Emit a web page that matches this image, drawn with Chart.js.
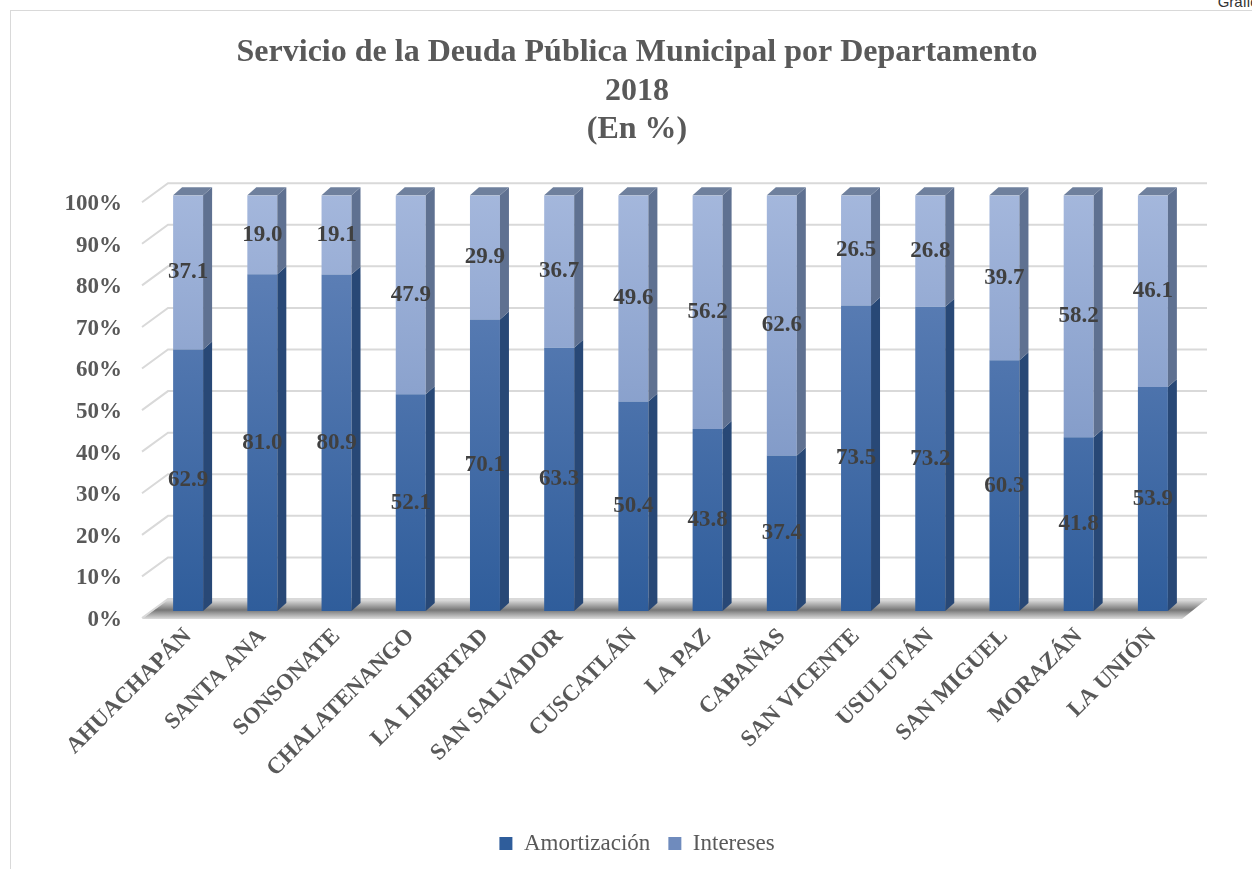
<!DOCTYPE html>
<html>
<head>
<meta charset="utf-8">
<script src="https://cdn.jsdelivr.net/npm/chart.js@4"></script>
<style>
  html, body { margin: 0; padding: 0; background: #fff; overflow: hidden; }
  #frame { position: absolute; left: 10px; top: 10px; width: 1300px; height: 900px; border: 1px solid #d9d9d9; }
  #tag { position: absolute; right: -14px; top: -7px; font: 15px "Liberation Sans", Arial, sans-serif; color: #333; }
  #wrap { position: absolute; left: 0; top: 0; width: 1252px; height: 869px; }
</style>
</head>
<body>
<div id="frame"></div>
<div id="tag">Gráfico</div>
<div id="wrap"><canvas id="chart"></canvas></div>
<script>
const categories = ["AHUACHAPÁN", "SANTA ANA", "SONSONATE", "CHALATENANGO", "LA LIBERTAD", "SAN SALVADOR",
  "CUSCATLÁN", "LA PAZ", "CABAÑAS", "SAN VICENTE", "USULUTÁN", "SAN MIGUEL", "MORAZÁN", "LA UNIÓN"];
const amortizacion = [62.9, 81.0, 80.9, 52.1, 70.1, 63.3, 50.4, 43.8, 37.4, 73.5, 73.2, 60.3, 41.8, 53.9];
const intereses = [37.1, 19.0, 19.1, 47.9, 29.9, 36.7, 49.6, 56.2, 62.6, 26.5, 26.8, 39.7, 58.2, 46.1];
const yTicks = [0, 10, 20, 30, 40, 50, 60, 70, 80, 90, 100];

const serif = '"Liberation Serif", "Times New Roman", serif';
const DX = 9, DY = -8;          // bar depth
const WX = 17, WY = -12;        // back wall offset

function areaGradient(chart, bottomColor, topColor) {
  const a = chart.chartArea;
  if (!a) return bottomColor;
  const g = chart.ctx.createLinearGradient(0, a.bottom, 0, a.top);
  g.addColorStop(0, bottomColor);
  g.addColorStop(1, topColor);
  return g;
}

const wallPlugin = {
  id: 'wall',
  beforeDatasetsDraw(chart) {
    const ctx = chart.ctx, y = chart.scales.y, a = chart.chartArea;
    ctx.save();
    // floor
    const yb0 = y.getPixelForValue(0);
    const fg = ctx.createLinearGradient(0, yb0 + WY, 0, yb0 + 8);
    fg.addColorStop(0, '#e6e6e6');
    fg.addColorStop(0.55, '#767676');
    fg.addColorStop(1, '#dcdcdc');
    ctx.fillStyle = fg;
    ctx.beginPath();
    ctx.moveTo(a.left + WX, yb0 + WY);
    ctx.lineTo(a.right + WX, yb0 + WY);
    ctx.lineTo(a.right - 8, yb0 + 8);
    ctx.lineTo(a.left - 9, yb0 + 8);
    ctx.closePath();
    ctx.fill();
    // grid lines on back wall and side
    ctx.strokeStyle = '#d9d9d9';
    ctx.lineWidth = 2;
    yTicks.forEach(v => {
      const yy = y.getPixelForValue(v) + WY;
      ctx.beginPath();
      ctx.moveTo(a.left - 9, yy + 19);
      ctx.lineTo(a.left + WX, yy);
      ctx.lineTo(a.right + WX, yy);
      ctx.stroke();
    });
    ctx.restore();
  },
  afterDatasetsDraw(chart) {
    const ctx = chart.ctx;
    const sides = ['#284876', '#5f7191'];
    ctx.save();
    chart.data.datasets.forEach((ds, di) => {
      chart.getDatasetMeta(di).data.forEach((bar, i) => {
        const w = bar.width, r = bar.x + w / 2, l = bar.x - w / 2;
        ctx.fillStyle = sides[di];
        ctx.beginPath();
        ctx.moveTo(r, bar.y);
        ctx.lineTo(r + DX, bar.y + DY);
        ctx.lineTo(r + DX, bar.base + DY);
        ctx.lineTo(r, bar.base);
        ctx.closePath();
        ctx.fill();
        if (di === chart.data.datasets.length - 1) {
          ctx.fillStyle = '#6f809d';
          ctx.beginPath();
          ctx.moveTo(l, bar.y);
          ctx.lineTo(l + DX, bar.y + DY);
          ctx.lineTo(r + DX, bar.y + DY);
          ctx.lineTo(r, bar.y);
          ctx.closePath();
          ctx.fill();
        }
      });
    });
    // value labels
    ctx.font = 'bold 23px ' + serif;
    ctx.fillStyle = '#404040';
    ctx.textAlign = 'center';
    ctx.textBaseline = 'middle';
    chart.data.datasets.forEach((ds, di) => {
      chart.getDatasetMeta(di).data.forEach((bar, i) => {
        ctx.fillText(ds.data[i].toFixed(1), bar.x, (bar.y + bar.base) / 2);
      });
    });
    ctx.restore();
  }
};

new Chart(document.getElementById('chart'), {
  type: 'bar',
  data: {
    labels: categories,
    datasets: [
      {
        label: 'Amortización',
        data: amortizacion,
        backgroundColor: (c) => areaGradient(c.chart, '#2f5d9b', '#6686bb')
      },
      {
        label: 'Intereses',
        data: intereses,
        backgroundColor: (c) => areaGradient(c.chart, '#6f8bbd', '#a4b7dc')
      }
    ]
  },
  options: {
    responsive: true,
    maintainAspectRatio: false,
    animation: false,
    datasets: { bar: { barPercentage: 0.8, categoryPercentage: 0.505 } },
    layout: { padding: { left: 22, right: 0, top: 0, bottom: 4 } },
    scales: {
      x: {
        stacked: true,
        grid: { display: false, drawTicks: false },
        border: { display: false },
        ticks: {
          autoSkip: false, maxRotation: 45, minRotation: 45, padding: 12,
          color: '#595959', font: { family: serif, size: 23, weight: 'bold' }
        },
        afterFit(s) { s.height = 203; }
      },
      y: {
        stacked: true,
        min: 0, max: 100,
        grid: { display: false, drawTicks: false },
        border: { display: false },
        ticks: {
          stepSize: 10, padding: 29, labelOffset: 9,
          color: '#595959', font: { family: serif, size: 23, weight: 'bold' },
          callback: v => v + '%'
        },
        afterFit(s) { s.width = 129; }
      },
      yRight: {
        position: 'right',
        display: true,
        grid: { display: false, drawTicks: false },
        border: { display: false },
        ticks: { display: false },
        afterFit(s) { s.width = 62; }
      }
    },
    plugins: {
      title: {
        display: true,
        text: ['Servicio de la Deuda Pública Municipal por Departamento', '2018', '(En %)'],
        color: '#595959',
        font: { family: serif, size: 32, weight: 'bold', lineHeight: 1.2 },
        padding: { top: 34, bottom: 46 }
      },
      legend: {
        position: 'bottom',
        labels: {
          boxWidth: 13, boxHeight: 13, padding: 18,
          color: '#595959', font: { family: serif, size: 23 }
        }
      },
      tooltip: { enabled: false }
    }
  },
  plugins: [wallPlugin]
});
</script>
</body>
</html>
